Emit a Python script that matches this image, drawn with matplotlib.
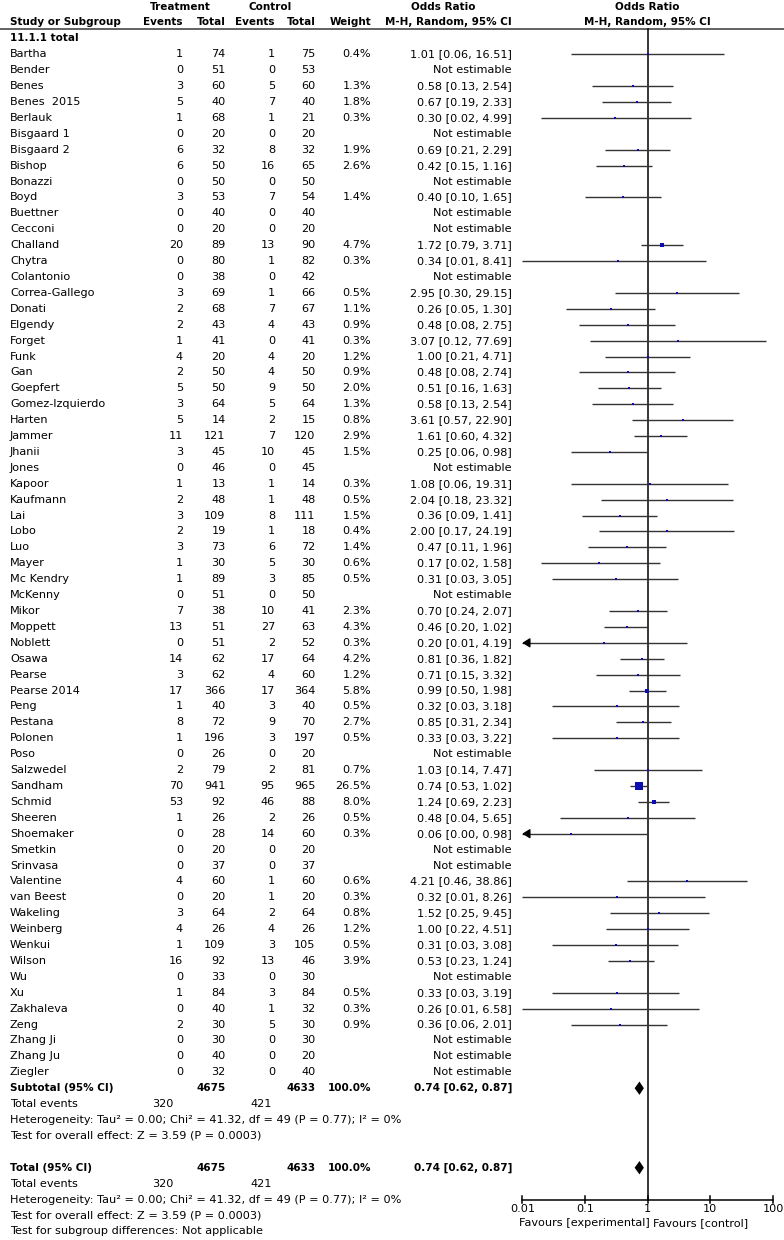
import numpy as np
import matplotlib
matplotlib.use("Agg")
import matplotlib.pyplot as plt

plt.rcParams['font.family'] = ['DejaVu Sans']

studies = ["Bartha", "Bender", "Benes", "Benes  2015", "Berlauk", "Bisgaard 1", "Bisgaard 2", "Bishop",
           "Bonazzi", "Boyd", "Buettner", "Cecconi", "Challand", "Chytra", "Colantonio", "Correa-Gallego",
           "Donati", "Elgendy", "Forget", "Funk", "Gan", "Goepfert", "Gomez-Izquierdo", "Harten", "Jammer",
           "Jhanii", "Jones", "Kapoor", "Kaufmann", "Lai", "Lobo", "Luo", "Mayer", "Mc Kendry", "McKenny",
           "Mikor", "Moppett", "Noblett", "Osawa", "Pearse", "Pearse 2014", "Peng", "Pestana", "Polonen",
           "Poso", "Salzwedel", "Sandham", "Schmid", "Sheeren", "Shoemaker", "Smetkin", "Srinvasa",
           "Valentine", "van Beest", "Wakeling", "Weinberg", "Wenkui", "Wilson", "Wu", "Xu", "Zakhaleva",
           "Zeng", "Zhang Ji", "Zhang Ju", "Ziegler"]
t_events = [1, 0, 3, 5, 1, 0, 6, 6, 0, 3, 0, 0, 20, 0, 0, 3, 2, 2, 1, 4, 2, 5, 3, 5, 11, 3, 0, 1, 2, 3, 2, 3,
            1, 1, 0, 7, 13, 0, 14, 3, 17, 1, 8, 1, 0, 2, 70, 53, 1, 0, 0, 0, 4, 0, 3, 4, 1, 16, 0, 1, 0, 2,
            0, 0, 0]
t_total = [74, 51, 60, 40, 68, 20, 32, 50, 50, 53, 40, 20, 89, 80, 38, 69, 68, 43, 41, 20, 50, 50, 64, 14,
           121, 45, 46, 13, 48, 109, 19, 73, 30, 89, 51, 38, 51, 51, 62, 62, 366, 40, 72, 196, 26, 79, 941,
           92, 26, 28, 20, 37, 60, 20, 64, 26, 109, 92, 33, 84, 40, 30, 30, 40, 32]
c_events = [1, 0, 5, 7, 1, 0, 8, 16, 0, 7, 0, 0, 13, 1, 0, 1, 7, 4, 0, 4, 4, 9, 5, 2, 7, 10, 0, 1, 1, 8, 1,
            6, 5, 3, 0, 10, 27, 2, 17, 4, 17, 3, 9, 3, 0, 2, 95, 46, 2, 14, 0, 0, 1, 1, 2, 4, 3, 13, 0, 3, 1,
            5, 0, 0, 0]
c_total = [75, 53, 60, 40, 21, 20, 32, 65, 50, 54, 40, 20, 90, 82, 42, 66, 67, 43, 41, 20, 50, 50, 64, 15,
           120, 45, 45, 14, 48, 111, 18, 72, 30, 85, 50, 41, 63, 52, 64, 60, 364, 40, 70, 197, 20, 81, 965,
           88, 26, 60, 20, 37, 60, 20, 64, 26, 105, 46, 30, 84, 32, 30, 30, 20, 40]
weight = [0.4, None, 1.3, 1.8, 0.3, None, 1.9, 2.6, None, 1.4, None, None, 4.7, 0.3, None, 0.5, 1.1, 0.9,
          0.3, 1.2, 0.9, 2.0, 1.3, 0.8, 2.9, 1.5, None, 0.3, 0.5, 1.5, 0.4, 1.4, 0.6, 0.5, None, 2.3, 4.3,
          0.3, 4.2, 1.2, 5.8, 0.5, 2.7, 0.5, None, 0.7, 26.5, 8.0, 0.5, 0.3, None, None, 0.6, 0.3, 0.8, 1.2,
          0.5, 3.9, None, 0.5, 0.3, 0.9, None, None, None]
odds = [1.01, None, 0.58, 0.67, 0.30, None, 0.69, 0.42, None, 0.40, None, None, 1.72, 0.34, None, 2.95,
        0.26, 0.48, 3.07, 1.00, 0.48, 0.51, 0.58, 3.61, 1.61, 0.25, None, 1.08, 2.04, 0.36, 2.00, 0.47,
        0.17, 0.31, None, 0.70, 0.46, 0.20, 0.81, 0.71, 0.99, 0.32, 0.85, 0.33, None, 1.03, 0.74, 1.24,
        0.48, 0.06, None, None, 4.21, 0.32, 1.52, 1.00, 0.31, 0.53, None, 0.33, 0.26, 0.36, None, None, None]
ci_low = [0.06, None, 0.13, 0.19, 0.02, None, 0.21, 0.15, None, 0.10, None, None, 0.79, 0.01, None, 0.30,
          0.05, 0.08, 0.12, 0.21, 0.08, 0.16, 0.13, 0.57, 0.60, 0.06, None, 0.06, 0.18, 0.09, 0.17, 0.11,
          0.02, 0.03, None, 0.24, 0.20, 0.01, 0.36, 0.15, 0.50, 0.03, 0.31, 0.03, None, 0.14, 0.53, 0.69,
          0.04, 0.00, None, None, 0.46, 0.01, 0.25, 0.22, 0.03, 0.23, None, 0.03, 0.01, 0.06, None, None, None]
ci_high = [16.51, None, 2.54, 2.33, 4.99, None, 2.29, 1.16, None, 1.65, None, None, 3.71, 8.41, None, 29.15,
           1.30, 2.75, 77.69, 4.71, 2.74, 1.63, 2.54, 22.90, 4.32, 0.98, None, 19.31, 23.32, 1.41, 24.19,
           1.96, 1.58, 3.05, None, 2.07, 1.02, 4.19, 1.82, 3.32, 1.98, 3.18, 2.34, 3.22, None, 7.47, 1.02,
           2.23, 5.65, 0.98, None, None, 38.86, 8.26, 9.45, 4.51, 3.08, 1.24, None, 3.19, 6.58, 2.01, None,
           None, None]

subtotal_t_total = 4675
subtotal_c_total = 4633
total_t_events = 320
total_c_events = 421
pooled_or = 0.74
pooled_lo = 0.62
pooled_hi = 0.87
heterogeneity = "Heterogeneity: Tau² = 0.00; Chi² = 41.32, df = 49 (P = 0.77); I² = 0%"
overall_effect = "Test for overall effect: Z = 3.59 (P = 0.0003)"
subgroup_diff = "Test for subgroup differences: Not applicable"
ticks = [0.01, 0.1, 1, 10, 100]
tick_labels = ["0.01", "0.1", "1", "10", "100"]

# ---------------- layout ----------------
W, H = 784, 1240
DPI = 100
y0_px, dy_px = 54.3, 15.906
row_top = -y0_px / dy_px
row_bot = (H - y0_px) / dy_px

fig = plt.figure(figsize=(W / DPI, H / DPI), dpi=DPI)
fig.patch.set_facecolor("white")
tab = fig.add_axes([0, 0, 1, 1])
tab.set_xlim(0, W)
tab.set_ylim(row_bot, row_top)
tab.axis("off")

fx0, fx1 = 522.3, 773.0
fax = fig.add_axes([fx0 / W, 0, (fx1 - fx0) / W, 1])
fax.set_xscale("log")
fax.set_xlim(0.01, 100)
fax.set_ylim(row_bot, row_top)
fax.axis("off")
fax.patch.set_alpha(0)

FS = 8.15
FSB = 7.45
col_te, col_tt, col_ce, col_ct, col_w, col_or = 183, 225.5, 275, 315.5, 371, 512
name_x = 10

def t(x, y, s, ha="right", bold=False, **kw):
    tab.text(x, y, s, ha=ha, va="center", fontsize=FSB if bold else FS,
             fontweight="bold" if bold else "normal", color="black", **kw)

# header
hr1, hr2 = -3.0, -2.05
t(180, hr1, "Treatment", ha="center", bold=True)
t(270, hr1, "Control", ha="center", bold=True)
t(443, hr1, "Odds Ratio", ha="center", bold=True)
t(647, hr1, "Odds Ratio", ha="center", bold=True)
t(name_x, hr2, "Study or Subgroup", ha="left", bold=True)
t(col_te, hr2, "Events", bold=True)
t(col_tt, hr2, "Total", bold=True)
t(col_ce, hr2, "Events", bold=True)
t(col_ct, hr2, "Total", bold=True)
t(col_w, hr2, "Weight", bold=True)
t(col_or, hr2, "M-H, Random, 95% CI", bold=True)
t(647, hr2, "M-H, Random, 95% CI", ha="center", bold=True)
line_row = (29.3 - y0_px) / dy_px
tab.plot([0, W], [line_row, line_row], color="#555555", lw=1.3, solid_capstyle="butt")

t(name_x, -1, "11.1.1 total", ha="left", bold=True)

for i, name in enumerate(studies):
    t(name_x, i, name, ha="left")
    t(col_te, i, str(t_events[i]))
    t(col_tt, i, str(t_total[i]))
    t(col_ce, i, str(c_events[i]))
    t(col_ct, i, str(c_total[i]))
    if weight[i] is None:
        t(col_or, i, "Not estimable")
        continue
    t(col_w, i, f"{weight[i]:.1f}%")
    t(col_or, i, f"{odds[i]:.2f} [{ci_low[i]:.2f}, {ci_high[i]:.2f}]")
    lo = max(ci_low[i], 0.01)
    fax.plot([lo, ci_high[i]], [i, i], color="#333333", lw=1.0, solid_capstyle="butt", zorder=2)
    if odds[i] ** 2 / ci_high[i] < 0.01:
        fax.annotate("", xy=(0.01, i), xytext=(0.013, i),
                     arrowprops=dict(arrowstyle="-|>,head_length=0.45,head_width=0.28",
                                     color="black", lw=1.0, shrinkA=0, shrinkB=0,
                                     mutation_scale=10))
    side_px = max(2.4, 7.2 * np.sqrt(weight[i] / 26.5))
    fax.scatter([odds[i]], [i], marker="s", s=(side_px * 0.72) ** 2, color="#0c0cb0",
                linewidths=0, zorder=3)

n = len(studies)
sub = n
t(name_x, sub, "Subtotal (95% CI)", ha="left", bold=True)
t(col_tt, sub, str(subtotal_t_total), bold=True)
t(col_ct, sub, str(subtotal_c_total), bold=True)
t(col_w, sub, "100.0%", bold=True)
t(col_or, sub, f"{pooled_or:.2f} [{pooled_lo:.2f}, {pooled_hi:.2f}]", bold=True)
t(name_x, sub + 1, "Total events", ha="left")
t(173, sub + 1, str(total_t_events))
t(272, sub + 1, str(total_c_events))
t(name_x, sub + 2, heterogeneity, ha="left")
t(name_x, sub + 3, overall_effect, ha="left")

tot = sub + 5
t(name_x, tot, "Total (95% CI)", ha="left", bold=True)
t(col_tt, tot, str(subtotal_t_total), bold=True)
t(col_ct, tot, str(subtotal_c_total), bold=True)
t(col_w, tot, "100.0%", bold=True)
t(col_or, tot, f"{pooled_or:.2f} [{pooled_lo:.2f}, {pooled_hi:.2f}]", bold=True)
t(name_x, tot + 1, "Total events", ha="left")
t(173, tot + 1, str(total_t_events))
t(272, tot + 1, str(total_c_events))
t(name_x, tot + 2, heterogeneity, ha="left")
t(name_x, tot + 3, overall_effect, ha="left")
t(name_x, tot + 4, subgroup_diff, ha="left")

# diamonds
dh = 0.42
for r in (sub, tot):
    fax.fill([pooled_lo, pooled_or, pooled_hi, pooled_or], [r, r - dh, r, r + dh],
             color="black", lw=0, zorder=3)

# vertical line at 1 and axis
axis_row = tot + 2
fax.plot([1, 1], [line_row, axis_row], color="black", lw=1.1, zorder=1)
fax.plot([0.01, 100], [axis_row, axis_row], color="black", lw=1.1, clip_on=False)
for tk, lb in zip(ticks, tick_labels):
    fax.plot([tk, tk], [axis_row - 0.22, axis_row + 0.22], color="black", lw=1.1, clip_on=False)
    fax.text(tk, axis_row + 0.62, lb, ha="center", va="center", fontsize=FS, clip_on=False)
fax.text(1.088, tot + 3.45, "Favours [experimental]", ha="right", va="center", fontsize=FS,
         clip_on=False)
fax.text(1.215, tot + 3.45, "Favours [control]", ha="left", va="center", fontsize=FS,
         clip_on=False)

fig.savefig("out.png", dpi=DPI, facecolor="white")
